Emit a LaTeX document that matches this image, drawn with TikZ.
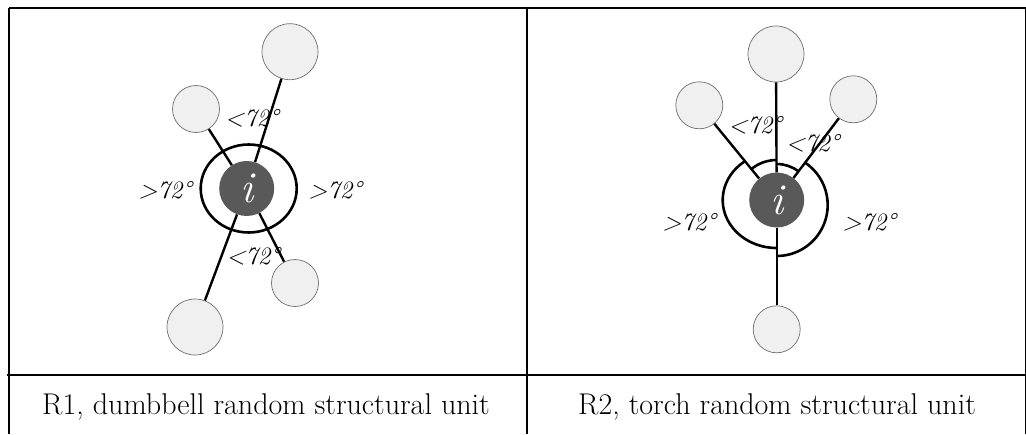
\documentclass[tikz,border=0pt]{standalone}
\usepackage{tikz}
\usetikzlibrary{positioning}
\definecolor{hubgray}{RGB}{89,89,89}
\definecolor{satfill}{RGB}{240,240,240}
\definecolor{satedge}{RGB}{110,110,110}
\tikzset{
  hub/.style={circle,fill=hubgray,draw=none,minimum size=55pt,inner sep=0pt,
    text=white,font=\fontsize{44}{44}\selectfont\itshape},
  satbig/.style={circle,fill=satfill,draw=satedge,line width=0.7pt,
    minimum size=56pt,inner sep=0pt},
  satsmall/.style={satbig,minimum size=47pt},
  bond/.style={line width=2.4pt,black},
  ring/.style={line width=2.6pt,black},
  ang/.style={font=\fontsize{25}{25}\selectfont\itshape,inner sep=0pt},
  captxt/.style={font=\fontsize{30}{32}\selectfont,inner sep=0pt},
  frame/.style={line width=2.5pt,black},
}

\begin{document}
\begin{tikzpicture}[x=1pt,y=-1pt]
  \useasboundingbox (0,0) rectangle (1026,434);

  % table frame
  \draw[frame] (9,8) -- (1026,8);
  \draw[frame] (9,8) -- (9,434);
  \draw[frame] (527,8) -- (527,434);
  \draw[frame] (7,375) -- (1026,375);
  \draw[line width=1pt] (1025,8) -- (1025,434);

  % R1, dumbbell
  \node[hub] (iL) at (246.7,188.5) {i};
  \node[satbig] (aL) at (290,51.7) {};
  \node[satsmall] (bL) at (196,109) {};
  \node[satsmall] (cL) at (295,283) {};
  \node[satbig] (dL) at (195,327) {};
  \draw[ring] ([xshift=2pt]iL.center) ellipse [x radius=48pt,y radius=44pt];
  \draw[bond] (iL) -- (aL);
  \draw[bond] (iL) -- (bL);
  \draw[bond] (iL) -- (cL);
  \draw[bond] (iL) -- (dL);
  \node[ang] (uL) at (251.7,118) {<72\textdegree};
  \node[ang] (wL) at (253,256.7) {<72\textdegree};
  \node[ang] (lL) at (165,190) {>72\textdegree};
  \node[ang] (rL) at (335,190) {>72\textdegree};

  % R2, torch
  \node[hub] (iR) at (776.7,200) {i};
  \node[satbig] (aR) at (776,54) {};
  \node[satsmall] (bR) at (699.3,105.3) {};
  \node[satsmall] (cR) at (853.3,99.3) {};
  \node[satsmall] (dR) at (776.7,329.3) {};
  \draw[bond] (iR) -- (aR);
  \draw[bond] (iR) -- (bR);
  \draw[bond] (iR) -- (cR);
  \draw[bond] (iR) -- (dR);
  \draw[ring] ([shift={(129.3:40pt)}]iR.center) arc[start angle=129.3,end angle=90,radius=40pt];
  \draw[ring] ([shift={(90:36pt)}]iR.center) arc[start angle=90,end angle=52.7,radius=36pt];
  \draw[ring] ([shift={(126:54pt and 48pt)}]iR.center)
    arc[start angle=126,end angle=270,x radius=54pt,y radius=48pt];
  \draw[ring] ([shift={(56.1:51pt)},yshift=-5pt]iR.center) arc[start angle=56.1,end angle=-90,radius=51pt];
  \node[ang] (uR) at (755,125) {<72\textdegree};
  \node[ang] (vR) at (812.5,143.3) {<72\textdegree};
  \node[ang] (lR) at (689,222.7) {>72\textdegree};
  \node[ang] (rR) at (869,222.7) {>72\textdegree};

  \node[captxt] (capL) at (266,407) {R1, dumbbell random structural unit};
  \node[captxt] (capR) at (777,407) {R2, torch random structural unit};
\end{tikzpicture}
\end{document}
